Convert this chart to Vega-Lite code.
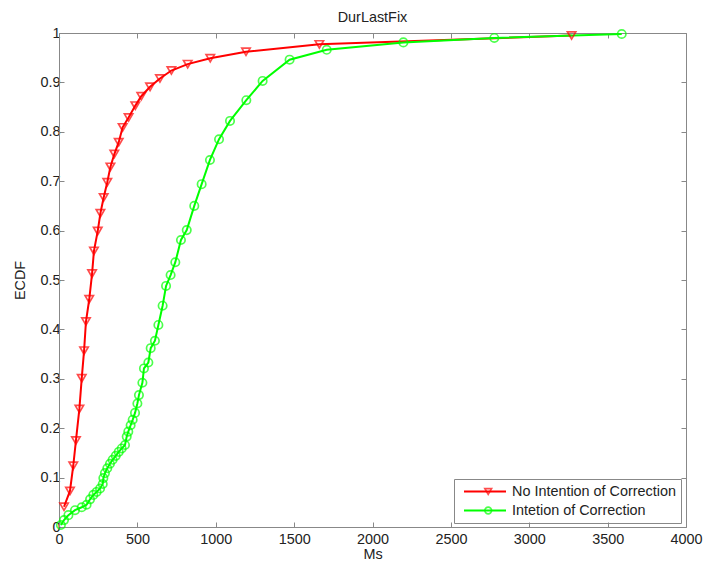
{
  "$schema": "https://vega.github.io/schema/vega-lite/v6.json",
  "width": 627,
  "height": 494,
  "autosize": {"type": "none"},
  "padding": {"left": 59, "top": 33, "right": 18, "bottom": 38},
  "background": "white",
  "config": {
    "view": {"stroke": null},
    "font": "Liberation Sans"
  },
  "title": {"text": "DurLastFix", "fontSize": 14.4, "fontWeight": "normal", "font": "Liberation Sans", "color": "#222", "offset": 0, "anchor": "middle", "frame": "group"},
  "data": {
    "values": [
      {"series": "No Intention of Correction", "x": 32, "y": 0.041},
      {"series": "No Intention of Correction", "x": 70, "y": 0.073},
      {"series": "No Intention of Correction", "x": 91, "y": 0.124},
      {"series": "No Intention of Correction", "x": 108, "y": 0.175},
      {"series": "No Intention of Correction", "x": 130, "y": 0.239},
      {"series": "No Intention of Correction", "x": 145, "y": 0.301},
      {"series": "No Intention of Correction", "x": 160, "y": 0.357},
      {"series": "No Intention of Correction", "x": 172, "y": 0.416},
      {"series": "No Intention of Correction", "x": 193, "y": 0.461},
      {"series": "No Intention of Correction", "x": 211, "y": 0.513},
      {"series": "No Intention of Correction", "x": 223, "y": 0.559},
      {"series": "No Intention of Correction", "x": 247, "y": 0.599},
      {"series": "No Intention of Correction", "x": 264, "y": 0.635},
      {"series": "No Intention of Correction", "x": 285, "y": 0.667},
      {"series": "No Intention of Correction", "x": 308, "y": 0.698},
      {"series": "No Intention of Correction", "x": 328, "y": 0.729},
      {"series": "No Intention of Correction", "x": 353, "y": 0.755},
      {"series": "No Intention of Correction", "x": 381, "y": 0.779},
      {"series": "No Intention of Correction", "x": 406, "y": 0.809},
      {"series": "No Intention of Correction", "x": 444, "y": 0.829},
      {"series": "No Intention of Correction", "x": 487, "y": 0.853},
      {"series": "No Intention of Correction", "x": 525, "y": 0.872},
      {"series": "No Intention of Correction", "x": 581, "y": 0.891},
      {"series": "No Intention of Correction", "x": 644, "y": 0.908},
      {"series": "No Intention of Correction", "x": 717, "y": 0.924},
      {"series": "No Intention of Correction", "x": 821, "y": 0.937},
      {"series": "No Intention of Correction", "x": 965, "y": 0.949},
      {"series": "No Intention of Correction", "x": 1193, "y": 0.962},
      {"series": "No Intention of Correction", "x": 1661, "y": 0.977},
      {"series": "No Intention of Correction", "x": 3270, "y": 0.995},
      {"series": "Intetion of Correction", "x": 12, "y": 0.004},
      {"series": "Intetion of Correction", "x": 32, "y": 0.014},
      {"series": "Intetion of Correction", "x": 60, "y": 0.024},
      {"series": "Intetion of Correction", "x": 102, "y": 0.034},
      {"series": "Intetion of Correction", "x": 145, "y": 0.04},
      {"series": "Intetion of Correction", "x": 176, "y": 0.045},
      {"series": "Intetion of Correction", "x": 198, "y": 0.056},
      {"series": "Intetion of Correction", "x": 219, "y": 0.065},
      {"series": "Intetion of Correction", "x": 240, "y": 0.071},
      {"series": "Intetion of Correction", "x": 262, "y": 0.078},
      {"series": "Intetion of Correction", "x": 279, "y": 0.087},
      {"series": "Intetion of Correction", "x": 283, "y": 0.099},
      {"series": "Intetion of Correction", "x": 293, "y": 0.109},
      {"series": "Intetion of Correction", "x": 308, "y": 0.119},
      {"series": "Intetion of Correction", "x": 325, "y": 0.128},
      {"series": "Intetion of Correction", "x": 342, "y": 0.136},
      {"series": "Intetion of Correction", "x": 362, "y": 0.144},
      {"series": "Intetion of Correction", "x": 381, "y": 0.152},
      {"series": "Intetion of Correction", "x": 400, "y": 0.159},
      {"series": "Intetion of Correction", "x": 421, "y": 0.166},
      {"series": "Intetion of Correction", "x": 432, "y": 0.183},
      {"series": "Intetion of Correction", "x": 442, "y": 0.193},
      {"series": "Intetion of Correction", "x": 457, "y": 0.206},
      {"series": "Intetion of Correction", "x": 470, "y": 0.217},
      {"series": "Intetion of Correction", "x": 485, "y": 0.231},
      {"series": "Intetion of Correction", "x": 500, "y": 0.25},
      {"series": "Intetion of Correction", "x": 510, "y": 0.267},
      {"series": "Intetion of Correction", "x": 532, "y": 0.292},
      {"series": "Intetion of Correction", "x": 542, "y": 0.321},
      {"series": "Intetion of Correction", "x": 570, "y": 0.333},
      {"series": "Intetion of Correction", "x": 585, "y": 0.362},
      {"series": "Intetion of Correction", "x": 612, "y": 0.377},
      {"series": "Intetion of Correction", "x": 634, "y": 0.409},
      {"series": "Intetion of Correction", "x": 661, "y": 0.448},
      {"series": "Intetion of Correction", "x": 683, "y": 0.488},
      {"series": "Intetion of Correction", "x": 712, "y": 0.51},
      {"series": "Intetion of Correction", "x": 742, "y": 0.536},
      {"series": "Intetion of Correction", "x": 778, "y": 0.581},
      {"series": "Intetion of Correction", "x": 815, "y": 0.601},
      {"series": "Intetion of Correction", "x": 863, "y": 0.65},
      {"series": "Intetion of Correction", "x": 910, "y": 0.694},
      {"series": "Intetion of Correction", "x": 963, "y": 0.743},
      {"series": "Intetion of Correction", "x": 1021, "y": 0.785},
      {"series": "Intetion of Correction", "x": 1091, "y": 0.822},
      {"series": "Intetion of Correction", "x": 1195, "y": 0.864},
      {"series": "Intetion of Correction", "x": 1299, "y": 0.903},
      {"series": "Intetion of Correction", "x": 1471, "y": 0.946},
      {"series": "Intetion of Correction", "x": 1708, "y": 0.966},
      {"series": "Intetion of Correction", "x": 2197, "y": 0.981},
      {"series": "Intetion of Correction", "x": 2777, "y": 0.99},
      {"series": "Intetion of Correction", "x": 3590, "y": 0.998}
    ]
  },
  "resolve": {"axis": {"x": "independent", "y": "independent"}},
  "layer": [
    {
      "mark": {"type": "line", "strokeWidth": 2},
      "encoding": {
        "x": {
          "field": "x", "type": "quantitative",
          "scale": {"domain": [0, 4000], "nice": false, "zero": false},
          "axis": {
            "orient": "bottom", "values": [0, 500, 1000, 1500, 2000, 2500, 3000, 3500, 4000],
            "format": "d", "grid": false, "tickSize": -5, "labelPadding": 10,
            "labelFontSize": 14.4, "labelFont": "Liberation Sans", "labelColor": "#222",
            "labelFlush": false, "labelOverlap": false,
            "domainColor": "#888", "tickColor": "#888",
            "title": "Ms", "titleFontSize": 14.4, "titleFontWeight": "normal", "titleFont": "Liberation Sans", "titleColor": "#222", "titlePadding": 2
          }
        },
        "y": {
          "field": "y", "type": "quantitative",
          "scale": {"domain": [0, 1], "nice": false},
          "axis": {
            "orient": "left", "values": [0, 0.1, 0.2, 0.3, 0.4, 0.5, 0.6, 0.7, 0.8, 0.9, 1],
            "format": ".1~f", "grid": false, "tickSize": -5, "labelPadding": 4,
            "labelFontSize": 14.4, "labelFont": "Liberation Sans", "labelColor": "#222",
            "labelFlush": false, "labelOverlap": false,
            "domainColor": "#888", "tickColor": "#888",
            "title": "ECDF", "titleFontSize": 14.4, "titleFontWeight": "normal", "titleFont": "Liberation Sans", "titleColor": "#222", "titlePadding": 12
          }
        },
        "color": {
          "field": "series", "type": "nominal",
          "scale": {"domain": ["No Intention of Correction", "Intetion of Correction"], "range": ["#ff0000", "#00ff00"]},
          "legend": {
            "title": null, "orient": "none", "legendX": 395, "legendY": 446,
            "padding": 5, "strokeColor": "#888", "cornerRadius": 0,
            "symbolType": "stroke", "symbolSize": 1764, "symbolStrokeWidth": 2, "symbolOffset": 4,
            "clipHeight": 15, "rowPadding": 3, "labelOffset": 5,
            "labelFontSize": 14.4, "labelFont": "Liberation Sans", "labelColor": "#222", "labelLimit": 400
          }
        }
      }
    },
    {
      "mark": {"type": "point", "filled": false, "strokeWidth": 1.7, "size": 70},
      "encoding": {
        "x": {
          "field": "x", "type": "quantitative",
          "axis": {
            "orient": "top", "values": [0, 500, 1000, 1500, 2000, 2500, 3000, 3500, 4000],
            "labels": false, "grid": false, "tickSize": -5, "title": null,
            "domainColor": "#888", "tickColor": "#888"
          }
        },
        "y": {
          "field": "y", "type": "quantitative",
          "axis": {
            "orient": "right", "values": [0, 0.1, 0.2, 0.3, 0.4, 0.5, 0.6, 0.7, 0.8, 0.9, 1],
            "labels": false, "grid": false, "tickSize": -5, "title": null,
            "domainColor": "#888", "tickColor": "#888"
          }
        },
        "stroke": {
          "field": "series", "type": "nominal", "sort": "descending",
          "scale": {"range": ["#ff0000", "#00ff00"]},
          "legend": null
        },
        "shape": {
          "field": "series", "type": "nominal", "sort": "descending",
          "scale": {"range": ["triangle-down", "circle"]},
          "legend": {
            "title": null, "orient": "none", "legendX": 395, "legendY": 446,
            "padding": 5, "strokeColor": null, "fillColor": null,
            "symbolSize": 45, "symbolStrokeWidth": 1.7, "symbolOffset": 22,
            "clipHeight": 15, "rowPadding": 3, "labelOffset": 5,
            "labelFontSize": 14.4, "labelFont": "Liberation Sans", "labelExpr": "''", "labelLimit": 400,
            "encode": {
              "symbols": {
                "update": {
                  "stroke": [
                    {"test": "datum.value === 'No Intention of Correction'", "value": "#ff0000"},
                    {"value": "#00ff00"}
                  ],
                  "fill": {"value": "transparent"}
                }
              }
            }
          }
        }
      }
    }
  ]
}
